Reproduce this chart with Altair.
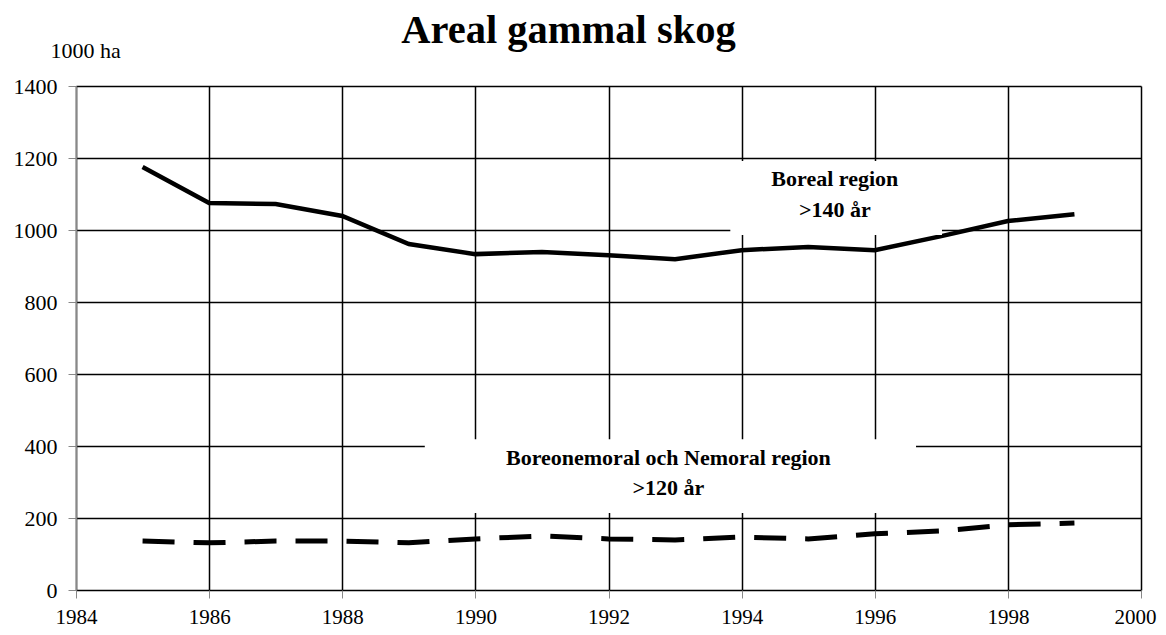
import altair as alt
import pandas as pd

years = list(range(1985, 2000))
boreal = [1175, 1075, 1072, 1039, 961, 933, 939, 930, 919, 944, 953, 944, 983, 1025, 1044]
nemoral = [136, 131, 136, 136, 131, 142, 150, 142, 139, 147, 142, 156, 164, 181, 186]

x_ticks = list(range(1984, 2001, 2))
y_ticks = list(range(0, 1401, 200))

label_lines = ["Boreal region", ">140 år", "Boreonemoral och Nemoral region", ">120 år"]
label_x = [1995.4, 1995.4, 1992.9, 1992.9]
label_y = [1122, 1036, 347, 264]

box_x = [1993.83, 1989.24]
box_x2 = [1997.01, 1996.62]
box_y = [986, 214]
box_y2 = [1192, 419]

FONT = "Liberation Serif"

df = pd.DataFrame({
    "year": years * 2,
    "value": boreal + nemoral,
    "series": ["Boreal"] * len(years) + ["Nemoral"] * len(years),
})
labels = pd.DataFrame({"x": label_x, "y": label_y, "t": label_lines})
boxes = pd.DataFrame({"x": box_x, "x2": box_x2, "y": box_y, "y2": box_y2})

xscale = alt.Scale(domain=[1984, 2000], nice=False, zero=False)
yscale = alt.Scale(domain=[0, 1400], nice=False)

xaxis = alt.Axis(values=x_ticks, format="d", grid=True, gridColor="black", gridWidth=1.5,
                 gridOpacity=1, domain=False, tickColor="#888", tickSize=8, tickWidth=1,
                 labelFont=FONT, labelFontSize=21, labelColor="black", labelPadding=8,
                 labelOffset={"condition": {"test": "datum.value == 2000", "value": -6},
                              "value": 0},
                 title=None, labelFlush=False)
yaxis = alt.Axis(values=y_ticks, format="d", grid=True, gridColor="black", gridWidth=1.5,
                 gridOpacity=1, domain=True, domainColor="#888", domainWidth=1.5,
                 tickColor="#888", tickSize=8,
                 labelFont=FONT, labelFontSize=22, labelColor="black", labelPadding=11,
                 title="1000 ha", titleAngle=0, titleX=9, titleY=-29, titleAlign="center",
                 titleBaseline="alphabetic", titleFont=FONT, titleFontSize=22,
                 titleFontWeight="normal", titleColor="black", labelFlush=False)

base = alt.Chart(df)
boreal_line = base.transform_filter(alt.datum.series == "Boreal").mark_line(
    color="black", strokeWidth=4.5).encode(
    x=alt.X("year:Q", scale=xscale, axis=xaxis),
    y=alt.Y("value:Q", scale=yscale, axis=yaxis),
)
nemoral_line = base.transform_filter(alt.datum.series == "Nemoral").mark_line(
    color="black", strokeWidth=5, strokeDash=[32, 19]).encode(
    x=alt.X("year:Q", scale=xscale),
    y=alt.Y("value:Q", scale=yscale),
)
rects = alt.Chart(boxes).mark_rect(color="white", opacity=1).encode(
    x=alt.X("x:Q", scale=xscale), x2="x2:Q",
    y=alt.Y("y:Q", scale=yscale), y2="y2:Q",
)
texts = alt.Chart(labels).mark_text(font=FONT, fontSize=22, fontWeight="bold", color="black",
                                    align="center", baseline="alphabetic").encode(
    x=alt.X("x:Q", scale=xscale),
    y=alt.Y("y:Q", scale=yscale),
    text="t:N",
)

chart = alt.layer(boreal_line, nemoral_line, rects, texts).properties(
    width=1065, height=504,
    title=alt.TitleParams(text="Areal gammal skog", font=FONT, fontSize=40.5, fontWeight="bold",
                          color="black", anchor="middle", dx=-40, offset=-44,
                          baseline="alphabetic"),
    autosize=alt.AutoSizeParams(type="none"),
    padding={"left": 68, "top": 78, "right": 17, "bottom": 37},
).configure(background="white", view=alt.ViewConfig(stroke=None))

chart.save("out.html", embed_options={"renderer": "svg", "actions": False})
